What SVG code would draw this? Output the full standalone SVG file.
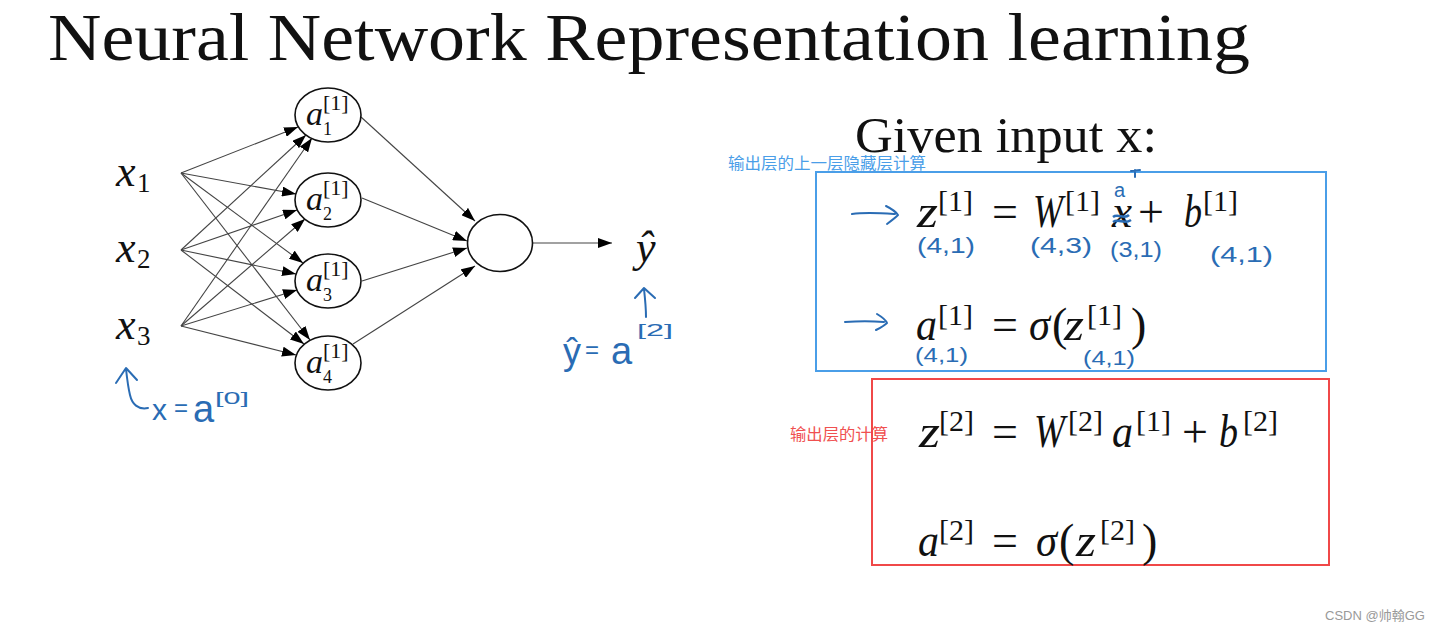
<svg xmlns="http://www.w3.org/2000/svg" width="1437" height="631" viewBox="0 0 1437 631">
<defs>
<marker id="ah" markerUnits="userSpaceOnUse" markerWidth="14" markerHeight="10" refX="14" refY="5" orient="auto"><path d="M0,0 L14,5 L0,10 z" fill="#000"/></marker>
<style>
.title{font-family:"Liberation Serif",serif;font-size:68px;fill:#111}
.serif{font-family:"Liberation Serif",serif;fill:#111}
.m{font-family:"Liberation Serif",serif;font-style:italic;fill:#111}
.r{font-family:"Liberation Serif",serif;fill:#111}
.node{fill:#fff;stroke:#111;stroke-width:1.6}
.edge{stroke:#444;stroke-width:1.1;fill:none;marker-end:url(#ah)}
.hand{font-family:"Liberation Sans",sans-serif;fill:#2a6cb4}
.hs{stroke:#2a6cb4;stroke-width:2;fill:none;stroke-linecap:round;stroke-linejoin:round}
.cjk{font-family:"Noto Sans CJK SC",sans-serif;font-size:16px}
</style>
</defs>
<rect width="1437" height="631" fill="#fff"/>
<text class="title" x="48" y="60" textLength="1202" lengthAdjust="spacingAndGlyphs">Neural Network Representation learning</text>

<g id="connectors">
<line class="edge" x1="181" y1="173" x2="298" y2="127"/>
<line class="edge" x1="181" y1="173" x2="296" y2="194"/>
<line class="edge" x1="181" y1="173" x2="303" y2="263"/>
<line class="edge" x1="181" y1="173" x2="310" y2="340"/>
<line class="edge" x1="181" y1="250" x2="306" y2="135"/>
<line class="edge" x1="181" y1="250" x2="297" y2="210"/>
<line class="edge" x1="181" y1="250" x2="296" y2="274"/>
<line class="edge" x1="181" y1="250" x2="304" y2="344"/>
<line class="edge" x1="181" y1="326" x2="312" y2="138"/>
<line class="edge" x1="181" y1="326" x2="305" y2="219"/>
<line class="edge" x1="181" y1="326" x2="297" y2="290"/>
<line class="edge" x1="181" y1="326" x2="296" y2="355"/>
<line class="edge" x1="361" y1="117" x2="475" y2="221"/>
<line class="edge" x1="362" y1="198" x2="467" y2="241"/>
<line class="edge" x1="362" y1="281" x2="467" y2="248"/>
<line class="edge" x1="353" y1="344" x2="475" y2="266"/>
<line class="edge" x1="533" y1="243" x2="612" y2="243"/>
</g>

<g id="x1"><text class="m" x="116" y="186" font-size="44">x</text><text class="r" x="137" y="192" font-size="27">1</text></g>
<g id="x2"><text class="m" x="116" y="262" font-size="44">x</text><text class="r" x="137" y="268" font-size="27">2</text></g>
<g id="x3"><text class="m" x="116" y="339" font-size="44">x</text><text class="r" x="137" y="345" font-size="27">3</text></g>

<g id="a1"><ellipse class="node" cx="328" cy="115" rx="33" ry="27"/><text class="m" x="306" y="125" font-size="34">a</text><text class="r" x="323" y="110" font-size="22">[1]</text><text class="r" x="323" y="135" font-size="18">1</text></g>
<g id="a2"><ellipse class="node" cx="328" cy="200" rx="33" ry="27"/><text class="m" x="306" y="210" font-size="34">a</text><text class="r" x="323" y="195" font-size="22">[1]</text><text class="r" x="323" y="220" font-size="18">2</text></g>
<g id="a3"><ellipse class="node" cx="328" cy="281" rx="33" ry="27"/><text class="m" x="306" y="291" font-size="34">a</text><text class="r" x="323" y="276" font-size="22">[1]</text><text class="r" x="323" y="301" font-size="18">3</text></g>
<g id="a4"><ellipse class="node" cx="328" cy="363" rx="33" ry="27"/><text class="m" x="306" y="373" font-size="34">a</text><text class="r" x="323" y="358" font-size="22">[1]</text><text class="r" x="323" y="383" font-size="18">4</text></g>
<g id="out"><ellipse class="node" cx="500" cy="243" rx="32.5" ry="28.5"/></g>
<g id="yhat"><text class="m" x="636" y="262" font-size="44">ŷ</text></g>

<g id="annot-left">
<path class="hs" d="M148,408 C138,410 132,404 130,395 C128,387 127,378 126,369 M116,383 L126,368 L137,380"/>
<text class="hand" x="152" y="420" font-size="30">x</text>
<text class="hand" x="174" y="416" font-size="24">=</text>
<text class="hand" x="193" y="422" font-size="38">a</text>
<text class="hand" x="215" y="404" font-size="17" textLength="34" lengthAdjust="spacingAndGlyphs">[0]</text>
</g>
<g id="annot-yhat">
<path class="hs" d="M646,317 C646,307 645,298 644,289 M635,298 L644,288 L655,298"/>
<text class="hand" x="563" y="364" font-size="36">ŷ</text>
<text class="hand" x="585" y="358" font-size="24">=</text>
<text class="hand" x="611" y="364" font-size="38">a</text>
<text class="hand" x="637" y="336" font-size="17" textLength="36" lengthAdjust="spacingAndGlyphs">[2]</text>
</g>

<text class="serif" x="855" y="152" font-size="50" textLength="302" lengthAdjust="spacingAndGlyphs">Given input x:</text>

<g id="hidden-box">
<rect x="816" y="172" width="510" height="199" fill="none" stroke="#4a9ee8" stroke-width="2"/>
<text class="cjk" x="728" y="169" fill="#4a9ee8" textLength="198" lengthAdjust="spacingAndGlyphs">输出层的上一层隐藏层计算</text>
<path class="hs" d="M852,214 C866,212 880,213 895,214 M886,206 C892,209 896,212 898,215 C895,218 891,221 887,224"/>
<text class="m" x="917" y="227" font-size="46" textLength="21" lengthAdjust="spacingAndGlyphs">z</text><text class="r" x="938" y="211" font-size="30">[1]</text>
<text class="r" x="992" y="227" font-size="46">=</text>
<text class="m" x="1033" y="227" font-size="46" textLength="30" lengthAdjust="spacingAndGlyphs">W</text><text class="r" x="1065" y="211" font-size="30">[1]</text>
<text class="m" x="1112" y="227" font-size="46" textLength="20" lengthAdjust="spacingAndGlyphs">x</text>
<path d="M1113,217 C1118,213 1124,220 1129,215 M1113,222 C1119,218 1124,225 1131,220" stroke="#2a6cb4" stroke-width="2.5" fill="none"/>
<text class="hand" x="1114" y="197" font-size="20">a</text>
<path class="hs" d="M1131,171 L1140,170 M1135,170 L1135,177" stroke-width="1.5"/>
<text class="r" x="1138" y="227" font-size="46">+</text>
<text class="m" x="1184" y="227" font-size="46" textLength="18" lengthAdjust="spacingAndGlyphs">b</text><text class="r" x="1203" y="211" font-size="30">[1]</text>
<text class="hand" x="917" y="253" font-size="22" textLength="58" lengthAdjust="spacingAndGlyphs">(4,1)</text>
<text class="hand" x="1030" y="253" font-size="22" textLength="62" lengthAdjust="spacingAndGlyphs">(4,3)</text>
<text class="hand" x="1110" y="257" font-size="22" textLength="52" lengthAdjust="spacingAndGlyphs">(3,1)</text>
<text class="hand" x="1210" y="262" font-size="22" textLength="63" lengthAdjust="spacingAndGlyphs">(4,1)</text>
<path class="hs" d="M845,322 C858,321 872,321 884,322 M877,314 C882,317 886,320 887,323 C884,326 880,328 876,330"/>
<text class="m" x="916" y="340" font-size="46" textLength="21" lengthAdjust="spacingAndGlyphs">a</text><text class="r" x="938" y="325" font-size="30">[1]</text>
<text class="r" x="992" y="340" font-size="46">=</text>
<text class="m" x="1029" y="340" font-size="46" textLength="21" lengthAdjust="spacingAndGlyphs">σ</text>
<text class="r" x="1052" y="340" font-size="46">(</text>
<text class="m" x="1064" y="340" font-size="46" textLength="20" lengthAdjust="spacingAndGlyphs">z</text><text class="r" x="1087" y="325" font-size="30">[1]</text>
<text class="r" x="1131" y="340" font-size="46">)</text>
<text class="hand" x="915" y="362" font-size="20" textLength="53" lengthAdjust="spacingAndGlyphs">(4,1)</text>
<text class="hand" x="1083" y="365" font-size="20" textLength="52" lengthAdjust="spacingAndGlyphs">(4,1)</text>
</g>

<g id="output-box">
<rect x="872" y="379" width="457" height="186" fill="none" stroke="#f04848" stroke-width="2"/>
<text class="cjk" x="790" y="440" fill="#f05050" textLength="98" lengthAdjust="spacingAndGlyphs">输出层的计算</text>
<text class="m" x="919" y="447" font-size="46" textLength="21" lengthAdjust="spacingAndGlyphs">z</text><text class="r" x="939" y="431" font-size="30">[2]</text>
<text class="r" x="992" y="447" font-size="46">=</text>
<text class="m" x="1034" y="447" font-size="46" textLength="31" lengthAdjust="spacingAndGlyphs">W</text><text class="r" x="1068" y="431" font-size="30">[2]</text>
<text class="m" x="1112" y="447" font-size="46" textLength="21" lengthAdjust="spacingAndGlyphs">a</text><text class="r" x="1136" y="431" font-size="30">[1]</text>
<text class="r" x="1182" y="447" font-size="46">+</text>
<text class="m" x="1219" y="447" font-size="46" textLength="19" lengthAdjust="spacingAndGlyphs">b</text><text class="r" x="1243" y="431" font-size="30">[2]</text>
<text class="m" x="918" y="556" font-size="46" textLength="21" lengthAdjust="spacingAndGlyphs">a</text><text class="r" x="939" y="540" font-size="30">[2]</text>
<text class="r" x="992" y="556" font-size="46">=</text>
<text class="m" x="1036" y="556" font-size="46" textLength="21" lengthAdjust="spacingAndGlyphs">σ</text>
<text class="r" x="1059" y="556" font-size="46">(</text>
<text class="m" x="1076" y="556" font-size="46" textLength="20" lengthAdjust="spacingAndGlyphs">z</text><text class="r" x="1100" y="540" font-size="30">[2]</text>
<text class="r" x="1142" y="556" font-size="46">)</text>
</g>

<text x="1325" y="620" font-family="Liberation Sans, Noto Sans CJK SC, sans-serif" font-size="13" fill="#999">CSDN @帅翰GG</text>
</svg>
